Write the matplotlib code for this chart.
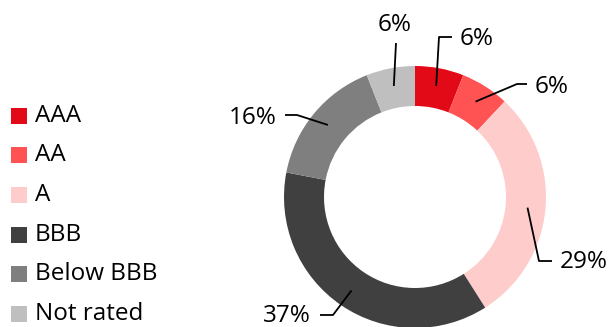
import numpy as np
import matplotlib.pyplot as plt
from matplotlib.patches import Rectangle

plt.rcParams['font.family'] = ['Open Sans', 'DejaVu Sans']

ratings = ['AAA', 'AA', 'A', 'BBB', 'Below BBB', 'Not rated']
shares = [6, 6, 29, 37, 16, 6]
colors = ['#e30a17', '#ff5252', '#ffcccc', '#404040', '#7f7f7f', '#bfbfbf']

# layout in pixels (y measured upward)
W, H = 612, 327
cx, cy, R, ring = 415, 130, 131, 40

# label placement: (elbow x, elbow y, end x, text x, text y, ha)
label_pos = [
    (439, 290, 452, 460, 288, 'left'),
    (517, 243, 527, 535, 240, 'left'),
    (539, 66, 552, 560, 65, 'left'),
    (333, 12, 320, 311, 11, 'right'),
    (297, 212, 285, 277, 209, 'right'),
    (396, 284, 396, 395, 302, 'center'),
]

fig = plt.figure(figsize=(6.12, 3.27), dpi=100)
ax = fig.add_axes([0, 0, 1, 1])

wedges, _ = ax.pie(shares, colors=colors, startangle=90, counterclock=False,
                   center=(cx, cy), radius=R,
                   wedgeprops=dict(width=ring, linewidth=0), frame=True)
ax.set_xlim(0, W)
ax.set_ylim(0, H)
ax.set_aspect('equal')
ax.axis('off')

# leader lines from the middle of each ring segment
cum = np.cumsum([0] + shares)
for i, v in enumerate(shares):
    mid = 90 - (cum[i] + v / 2) / 100 * 360
    r = R - ring * 0.45
    x0 = cx + r * np.cos(np.radians(mid))
    y0 = cy + r * np.sin(np.radians(mid))
    ex, ey, endx, tx, ty, ha = label_pos[i]
    ax.plot([x0, ex, endx], [y0, ey, ey], color='black', lw=1.3,
            solid_capstyle='butt')
    ax.text(tx, ty, f'{v}%', ha=ha, va='center', fontsize=17.5)

# legend
for i, (lab, col) in enumerate(zip(ratings, colors)):
    y = H - (115.5 + i * 39.7)
    ax.add_patch(Rectangle((11, y - 8), 16, 16, color=col, lw=0))
    ax.text(35, y, lab, ha='left', va='center', fontsize=17.5)

fig.savefig('out.png', dpi=100)
